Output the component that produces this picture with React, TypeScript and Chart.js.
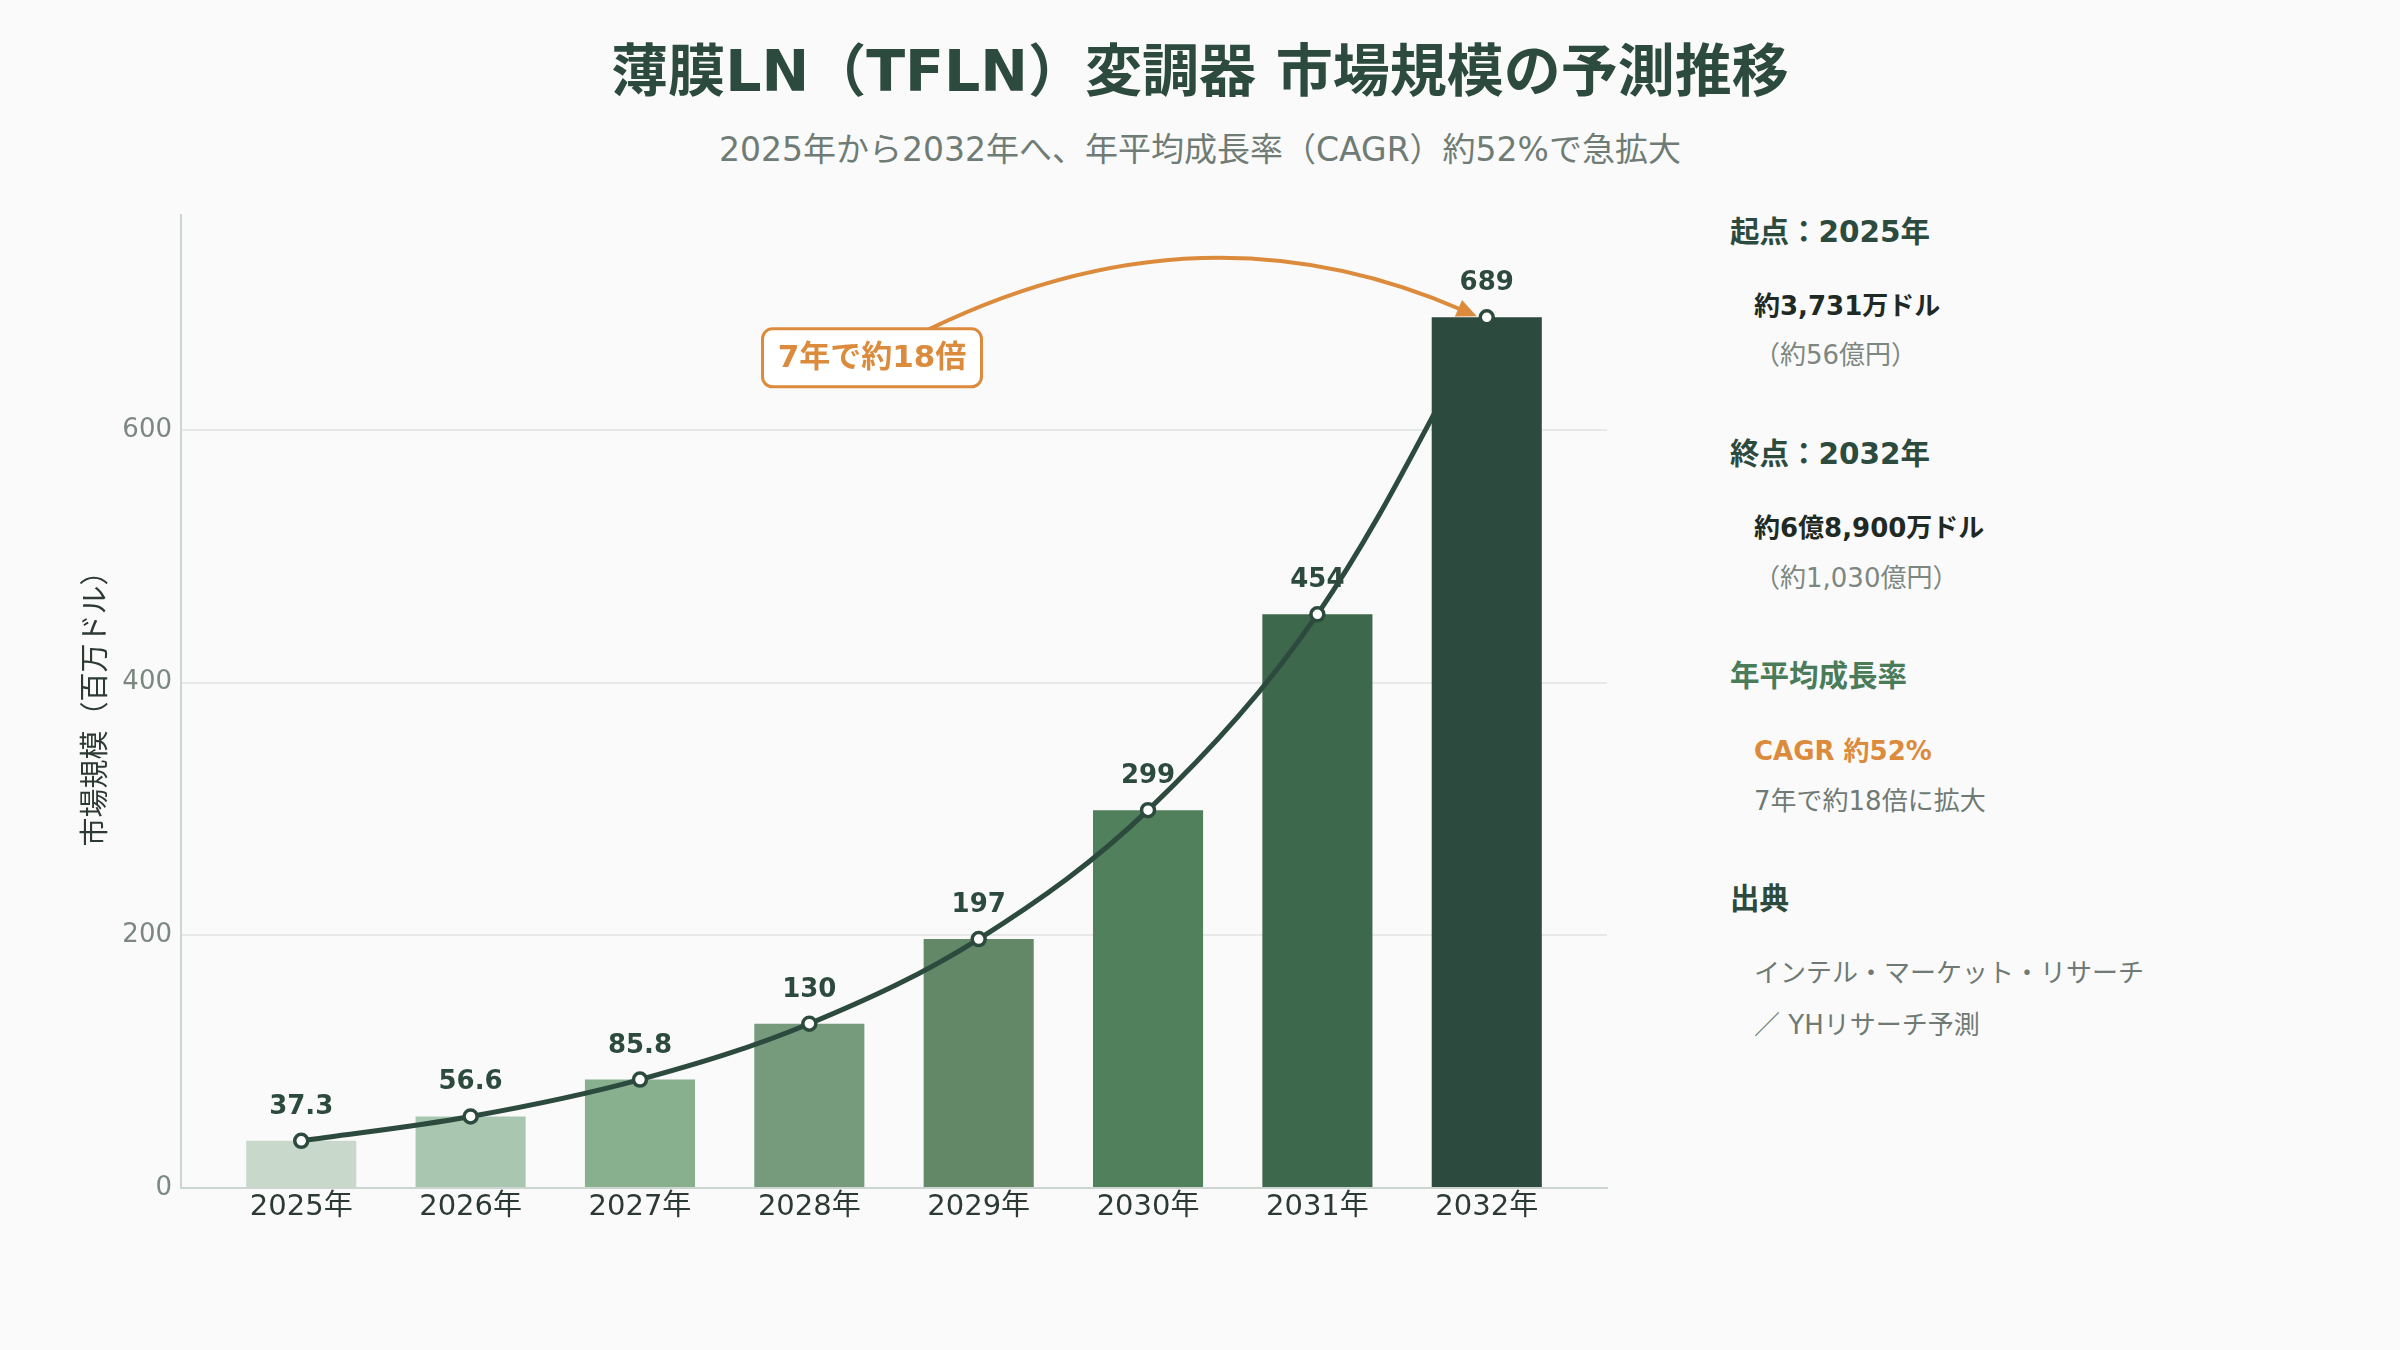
import { useEffect, useRef } from 'react';
import { Chart, registerables } from 'chart.js';

Chart.register(...registerables);

// ---- data ----
const yearLabels = ['2025年', '2026年', '2027年', '2028年', '2029年', '2030年', '2031年', '2032年'];
const marketSize = [37.3, 56.6, 85.8, 130, 197, 299, 454, 689];
const barColors = ['#c8d9cc', '#a9c7b0', '#88b08f', '#759b7c', '#628868', '#50805c', '#3e684b', '#2d4a3e'];
const yTickValues = [0, 200, 400, 600];
const yAxisMax = 770;
const growthLabel = '7年で約18倍';

const FONT = '"DejaVu Sans", "Noto Sans CJK JP", sans-serif';
const DARK = '#2d4a3e';
const ORANGE = '#dc8b3c';

// value labels above each point of the line
const valueLabelPlugin = {
  id: 'valueLabels',
  afterDatasetsDraw(chart: any) {
    const { ctx } = chart;
    const meta = chart.getDatasetMeta(1);
    ctx.save();
    ctx.font = `bold 26px ${FONT}`;
    ctx.fillStyle = DARK;
    ctx.textAlign = 'center';
    ctx.textBaseline = 'alphabetic';
    meta.data.forEach((pt: any, i: number) => {
      ctx.fillText(String(marketSize[i]), pt.x, pt.y - 27);
    });
    ctx.restore();
  },
};

// curved arrow from the callout box to the final point
const growthArrowPlugin = {
  id: 'growthArrow',
  afterDatasetsDraw(chart: any) {
    const { ctx, scales } = chart;
    const meta = chart.getDatasetMeta(1);
    const end = meta.data[meta.data.length - 1];
    const bx = scales.x.getPixelForValue(3.37);
    const by = scales.y.getPixelForValue(657);
    const w = 219;
    const h = 58;

    const sx = bx + 58;
    const sy = by - h / 2;
    const ex = end.x - 10;
    const ey = end.y - 1;
    const cx = sx + (ex - sx) * 0.5;
    const cy = Math.min(sy, ey) - 120;

    ctx.save();
    ctx.strokeStyle = ORANGE;
    ctx.fillStyle = ORANGE;
    ctx.lineWidth = 4;
    ctx.lineCap = 'round';
    const ang = Math.atan2(ey - cy, ex - cx);
    const headLen = 20;
    const bxh = ex - Math.cos(ang) * headLen * 0.7;
    const byh = ey - Math.sin(ang) * headLen * 0.7;
    ctx.beginPath();
    ctx.moveTo(sx, sy);
    ctx.quadraticCurveTo(cx, cy, bxh, byh);
    ctx.stroke();
    ctx.beginPath();
    ctx.moveTo(ex, ey);
    ctx.lineTo(ex - headLen * Math.cos(ang) + 9 * Math.sin(ang), ey - headLen * Math.sin(ang) - 9 * Math.cos(ang));
    ctx.lineTo(ex - headLen * Math.cos(ang) - 9 * Math.sin(ang), ey - headLen * Math.sin(ang) + 9 * Math.cos(ang));
    ctx.closePath();
    ctx.fill();

    // callout box
    ctx.beginPath();
    ctx.roundRect(bx - w / 2, by - h / 2, w, h, 10);
    ctx.fillStyle = '#ffffff';
    ctx.fill();
    ctx.lineWidth = 3;
    ctx.strokeStyle = ORANGE;
    ctx.stroke();
    ctx.fillStyle = ORANGE;
    ctx.font = `bold 31px ${FONT}`;
    ctx.textAlign = 'center';
    ctx.textBaseline = 'middle';
    ctx.fillText(growthLabel, bx, by + 1);
    ctx.restore();
  },
};

function MarketChart() {
  const ref = useRef<HTMLCanvasElement>(null);
  useEffect(() => {
    if (!ref.current) return;
    const points = marketSize.map((v, i) => ({ x: i, y: v }));
    const chart = new Chart(ref.current, {
      type: 'bar',
      data: {
        datasets: [
          {
            type: 'bar',
            data: points,
            backgroundColor: barColors,
            borderWidth: 0,
            barPercentage: 0.65,
            categoryPercentage: 1,
            order: 2,
          },
          {
            type: 'line',
            data: points,
            borderColor: DARK,
            borderWidth: 5,
            tension: 0.35,
            pointRadius: 6.5,
            pointBorderWidth: 3.5,
            pointBackgroundColor: '#ffffff',
            pointBorderColor: DARK,
            order: 1,
          },
        ],
      } as any,
      options: {
        animation: false,
        responsive: false,
        devicePixelRatio: 1,
        layout: { padding: { left: 0, right: 43, top: 215, bottom: 102 } },
        plugins: { legend: { display: false }, tooltip: { enabled: false } },
        scales: {
          x: {
            type: 'linear',
            min: -0.71,
            max: 7.71,
            offset: false,
            grid: { display: false, drawTicks: false },
            border: { display: true, color: '#cdd5d0', width: 2 },
            afterBuildTicks: (scale: any) => {
              scale.ticks = yearLabels.map((_, i) => ({ value: i }));
            },
            afterFit: (scale: any) => {
              scale.height = 60;
            },
            ticks: {
              includeBounds: false,
              padding: 2,
              color: '#2d3a33',
              font: { family: FONT, size: 29 },
              callback: (value: any) => yearLabels[value] ?? '',
            },
          },
          y: {
            type: 'linear',
            min: 0,
            max: yAxisMax,
            grid: { color: '#e6e9e7', lineWidth: 2, drawTicks: false },
            border: { display: true, color: '#cdd5d0', width: 2 },
            afterBuildTicks: (scale: any) => {
              scale.ticks = yTickValues.map((v) => ({ value: v }));
            },
            afterFit: (scale: any) => {
              scale.width = 181;
            },
            ticks: {
              includeBounds: false,
              padding: 9,
              color: '#7b8780',
              font: { family: FONT, size: 26 },
            },
            title: {
              display: true,
              text: '市場規模（百万ドル）',
              color: '#2d3a33',
              font: { family: FONT, size: 29 },
              padding: { top: 80, bottom: 0 },
            },
          },
        },
      } as any,
      plugins: [valueLabelPlugin, growthArrowPlugin],
    });
    return () => chart.destroy();
  }, []);
  return <canvas ref={ref} width={1650} height={1350} style={{ position: 'absolute', left: 0, top: 0 }} />;
}

function T(props: { x: number; y: number; size: number; color: string; bold?: boolean; children: any }) {
  const { x, y, size, color, bold, children } = props;
  return (
    <div
      style={{
        position: 'absolute',
        left: x,
        top: y - size * 0.45,
        fontSize: size,
        lineHeight: `${size}px`,
        fontWeight: bold ? 700 : 400,
        color,
        whiteSpace: 'nowrap',
        fontFamily: FONT,
      }}
    >
      {children}
    </div>
  );
}

export default function App() {
  return (
    <div
      style={{
        position: 'absolute',
        left: 0,
        top: 0,
        width: 2400,
        height: 1350,
        background: '#fafafa',
        overflow: 'hidden',
        fontFamily: FONT,
      }}
    >
      <div
        style={{
          position: 'absolute',
          left: 0,
          width: 2400,
          top: 69 - 57 * 0.45,
          textAlign: 'center',
          fontSize: 57,
          lineHeight: '57px',
          fontWeight: 700,
          color: DARK,
        }}
      >
        薄膜LN（TFLN）変調器 市場規模の予測推移
      </div>
      <div
        style={{
          position: 'absolute',
          left: 0,
          width: 2400,
          top: 148 - 33 * 0.45,
          textAlign: 'center',
          fontSize: 33,
          lineHeight: '33px',
          color: '#6f7c75',
        }}
      >
        2025年から2032年へ、年平均成長率（CAGR）約52%で急拡大
      </div>

      <MarketChart />

      <T x={1730} y={231} size={29.5} color={DARK} bold>起点：2025年</T>
      <T x={1754} y={305} size={26} color="#1f2a24" bold>約3,731万ドル</T>
      <T x={1754} y={354} size={26} color="#7d8781">（約56億円）</T>

      <T x={1730} y={453} size={29.5} color={DARK} bold>終点：2032年</T>
      <T x={1754} y={527} size={26} color="#1f2a24" bold>約6億8,900万ドル</T>
      <T x={1754} y={577} size={26} color="#7d8781">（約1,030億円）</T>

      <T x={1730} y={675} size={29.5} color="#4a7c59" bold>年平均成長率</T>
      <T x={1754} y={750} size={26} color={ORANGE} bold>CAGR 約52%</T>
      <T x={1754} y={800} size={26} color="#6f7a74">7年で約18倍に拡大</T>

      <T x={1730} y={898} size={29.5} color={DARK} bold>出典</T>
      <T x={1754} y={972} size={26} color="#6f7a74">インテル・マーケット・リサーチ</T>
      <T x={1754} y={1024} size={26} color="#6f7a74">／ YHリサーチ予測</T>
    </div>
  );
}
